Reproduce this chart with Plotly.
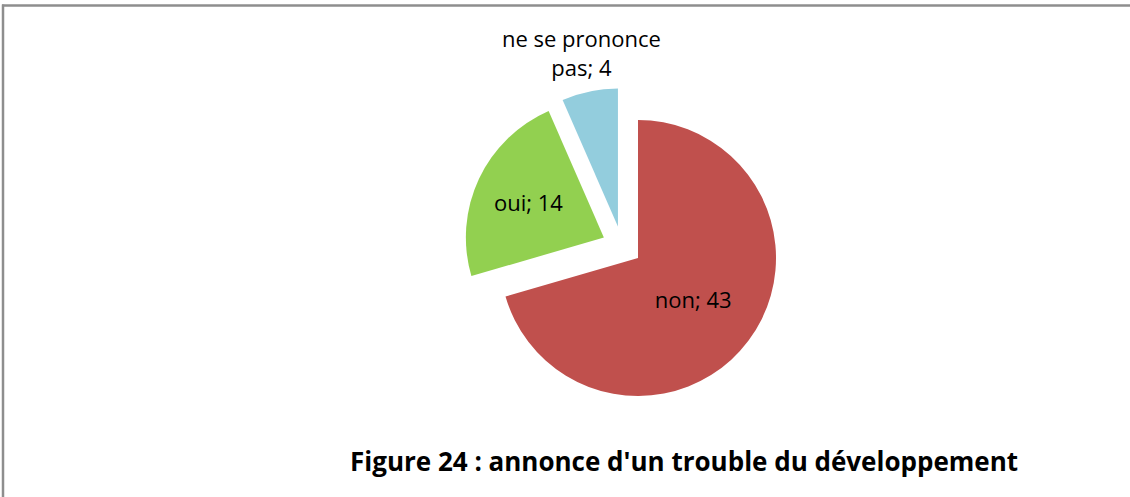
import math
import plotly.graph_objects as go

labels = ["non", "oui", "ne se prononce pas"]
values = [43, 14, 4]
display_labels = ["non", "oui", "ne se prononce<br>pas"]
colors = ["#C0504D", "#92D050", "#93CDDD"]
title_text = "Figure 24 : annonce d'un trouble du développement"

W, H = 1130, 497
texts = [f"{l}; {v}" for l, v in zip(display_labels, values)]

# pie geometry (pixels)
CX, CY, R, PULL = 622, 246, 138, 0.145
dom_h = 2 * R * (1 + PULL)
dom_w = dom_h * 1.4
domain_x = [(CX - dom_w / 2) / W, (CX + dom_w / 2) / W]
domain_y = [(H - CY - dom_h / 2) / H, (H - CY + dom_h / 2) / H]

# the small last slice gets its label outside, as an annotation above it
inside_text = texts[:-1] + [""]

fig = go.Figure(go.Pie(
    labels=labels,
    values=values,
    text=inside_text,
    textinfo="text",
    hoverinfo="label+value",
    sort=False,
    direction="clockwise",
    rotation=0,
    pull=[PULL] * len(values),
    marker=dict(colors=colors, line=dict(width=0)),
    textposition="inside",
    insidetextorientation="horizontal",
    textfont=dict(family="Open Sans", size=22, color="#000000"),
    showlegend=False,
    domain=dict(x=domain_x, y=domain_y),
))

# outside label for last slice, placed along its mid-angle
total = sum(values)
mid = (sum(values[:-1]) + values[-1] / 2) / total * 2 * math.pi
lr = R * (1 + PULL) + 40
lx = CX + lr * math.sin(mid)
ly = CY - lr * math.cos(mid)
fig.add_annotation(
    text=texts[-1], x=lx / W, y=1 - ly / H, xref="paper", yref="paper",
    showarrow=False, xanchor="center", yanchor="middle", align="center",
    font=dict(family="Open Sans", size=22, color="#000000"),
)

fig.add_annotation(
    text=f"<b>{title_text}</b>", x=684 / W, y=1 - 461 / H, xref="paper", yref="paper",
    showarrow=False, xanchor="center", yanchor="middle",
    font=dict(family="Open Sans", size=26, color="#000000"),
)

# frame border (top and left visible)
fig.add_shape(type="line", xref="paper", yref="paper", x0=2 / W, x1=1.0, y0=1 - 5.5 / H, y1=1 - 5.5 / H,
              line=dict(color="#8E8E8E", width=2.5))
fig.add_shape(type="line", xref="paper", yref="paper", x0=3 / W, x1=3 / W, y0=0, y1=1 - 4.5 / H,
              line=dict(color="#8E8E8E", width=2.5))

fig.update_layout(
    width=W, height=H,
    margin=dict(l=0, r=0, t=0, b=0),
    paper_bgcolor="white", plot_bgcolor="white",
    font=dict(family="Open Sans"),
)

post = ("document.body.style.margin='0';document.body.style.overflow='hidden';"
        "var d=document.getElementById('{plot_id}');d.style.position='fixed';"
        "d.style.left='0px';d.style.top='0px';")
fig.write_html("out.html", post_script=post, config={"displayModeBar": False})
